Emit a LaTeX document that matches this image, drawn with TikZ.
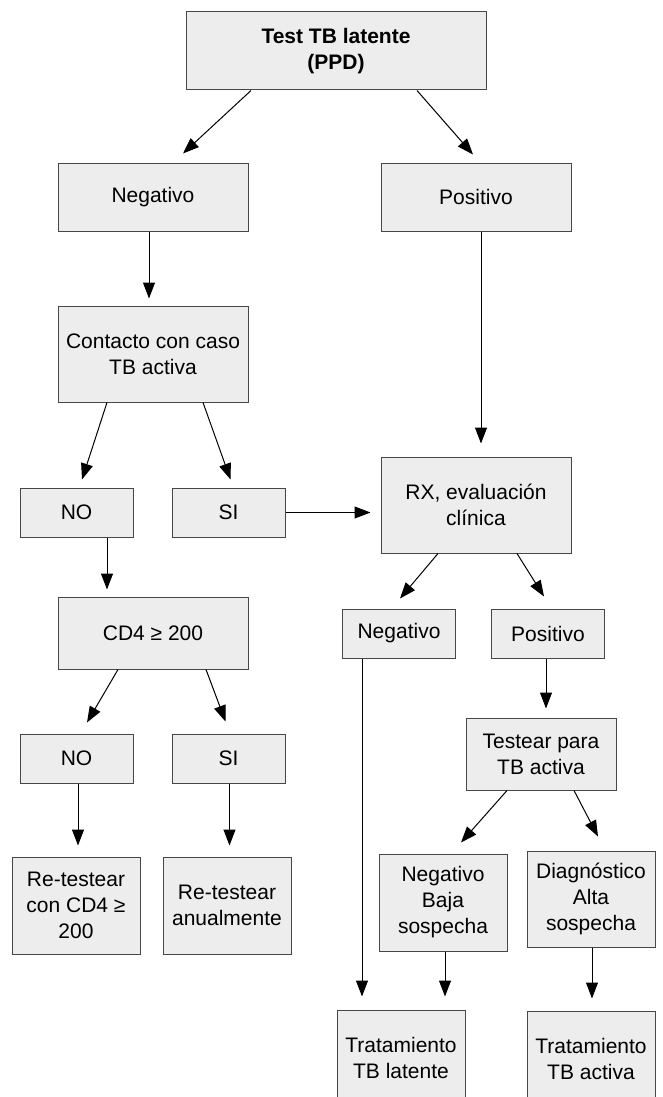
\documentclass[tikz,border=0pt]{standalone}
\usepackage{fontspec}
\setmainfont{Liberation Sans}
\usepackage{tikz}
\usetikzlibrary{arrows.meta,positioning}

\begin{document}
\begin{tikzpicture}[
    x=1pt,y=-1pt,
    box/.style={rectangle,draw=black!72,line width=1pt,fill=black!7,inner sep=0pt,minimum width=190pt,minimum height=68pt,font=\fontsize{21}{26}\selectfont,align=center},
    small/.style={box,minimum width=113pt,minimum height=49pt},
    tall/.style={box,minimum width=129pt,minimum height=97pt},
    arrow/.style={-{Triangle[length=16pt,width=12pt]},line width=1pt,black},
]
\useasboundingbox (0,0) rectangle (662,1097);
\node[box,minimum width=300pt,minimum height=78pt,font=\fontsize{21}{26}\selectfont\bfseries] (top) at (336,51) {Test TB latente\\(PPD)};
\node[box] at (153,197)                        (neg)      {Negativo};
\node[box,right=132pt of neg]                  (pos)      {Positivo};
\node[box,minimum height=96pt,below=74pt of neg] (contacto) {Contacto con caso\\TB activa};
\node[box,minimum height=96pt,below=225pt of pos] (rx)     {RX, evaluación\\clínica};
\node[small] at (76.5,512.5)                   (no1)      {NO};
\node[small,right=38pt of no1]                 (si1)      {SI};
\node[box,minimum height=72pt] at (153,633)    (cd4)      {CD4 ≥ 200};
\node[small] at (399,633.5)                    (neg2)     {Negativo};
\node[small,right=35pt of neg2]                (pos2)     {Positivo};
\node[small] at (76.5,758.5)                   (no2)      {NO};
\node[small,right=38pt of no2]                 (si2)      {SI};
\node[box,minimum width=150pt,minimum height=72pt] at (541,754) (testear) {Testear para\\TB activa};
\node[tall,minimum width=128pt] at (76,905.5)  (re1)      {Re-testear\\con CD4 ≥\\200};
\node[tall,minimum width=128pt,right=22pt of re1] (re2)   {Re-testear\\anualmente};
\node[tall,minimum width=128pt] at (443,902.5) (negbaja)  {Negativo\\Baja\\sospecha};
\node[tall,minimum width=128pt,minimum height=96pt,right=19pt of negbaja,yshift=3.5pt] (diag) {Diagnóstico\\Alta\\sospecha};
\node[tall,minimum width=128pt,minimum height=96pt] at (401,1058) (tratlat) {Tratamiento\\TB latente};
\node[tall,minimum width=128pt,minimum height=96pt,below=63pt of diag] (tratact) {Tratamiento\\TB activa};

\draw[arrow] ([xshift=-85pt]top.south) -- ([xshift=30pt,yshift=9pt]neg.north);
\draw[arrow] ([xshift=81pt]top.south) -- ([xshift=-3pt,yshift=8pt]pos.north);
\draw[arrow] ([xshift=-4pt]neg.south) -- ([xshift=-4pt,yshift=7pt]contacto.north);
\draw[arrow] ([xshift=5pt]pos.south) -- ([xshift=5pt,yshift=13pt]rx.north);
\draw[arrow] ([xshift=-46pt]contacto.south) -- ([xshift=5.5pt,yshift=8pt]no1.north);
\draw[arrow] ([xshift=50pt]contacto.south) -- ([xshift=2pt,yshift=8pt]si1.north);
\draw[arrow,shorten >=10pt] (si1.east) -- (si1.east -| rx.west);
\draw[arrow] ([xshift=30.5pt]no1.south) -- ([xshift=-46pt,yshift=7pt]cd4.north);
\draw[arrow] ([xshift=-38pt]rx.south) -- ([xshift=1pt,yshift=10pt]neg2.north);
\draw[arrow] ([xshift=41pt]rx.south) -- ([xshift=-4pt,yshift=12pt]pos2.north);
\draw[arrow] ([xshift=-2pt]pos2.south) -- ([xshift=5pt,yshift=9pt]testear.north);
\draw[arrow] ([xshift=-35pt]cd4.south) -- ([xshift=10.5pt,yshift=11pt]no2.north);
\draw[arrow] ([xshift=53pt]cd4.south) -- ([xshift=-3pt,yshift=12pt]si2.north);
\draw[arrow] ([xshift=1.5pt]no2.south) -- ([xshift=2pt,yshift=11pt]re1.north);
\draw[arrow] ([xshift=1pt]si2.south) -- ([xshift=2.5pt,yshift=11pt]re2.north);
\draw[arrow] ([xshift=-34pt]testear.south) -- ([xshift=18pt,yshift=11pt]negbaja.north);
\draw[arrow] ([xshift=33pt]testear.south) -- ([xshift=7pt,yshift=14pt]diag.north);
\draw[arrow] ([xshift=-37pt]neg2.south) -- ([xshift=-39pt,yshift=13pt]tratlat.north);
\draw[arrow] ([xshift=2pt]negbaja.south) -- ([xshift=44pt,yshift=13pt]tratlat.north);
\draw[arrow] ([xshift=1pt]diag.south) -- ([xshift=1pt,yshift=12pt]tratact.north);
\end{tikzpicture}
\end{document}
